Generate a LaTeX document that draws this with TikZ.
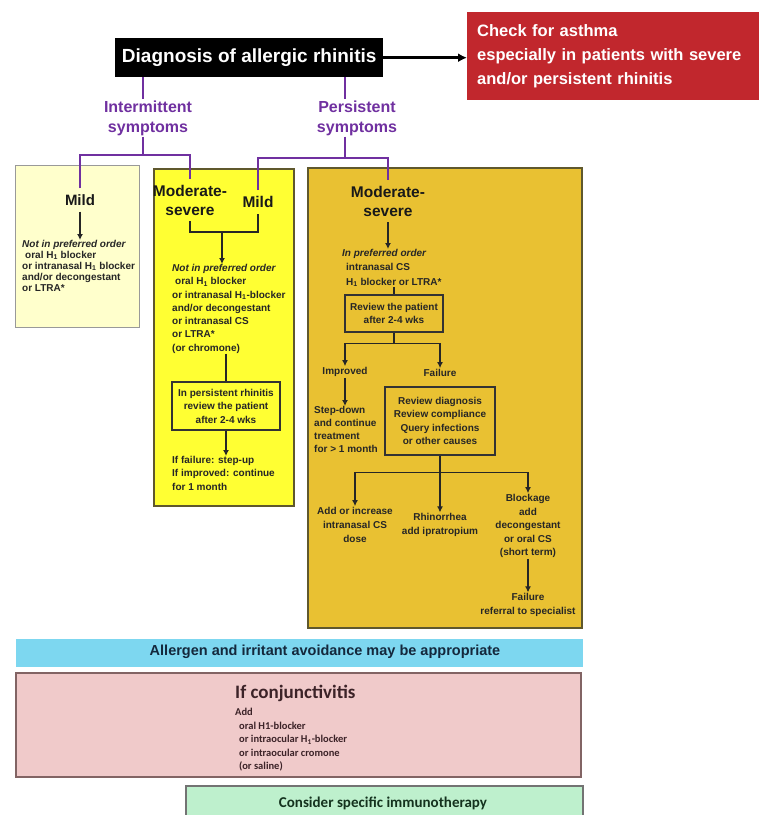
\documentclass[tikz,border=0pt]{standalone}
\usepackage{fontspec}
\setmainfont{Liberation Sans}
\newfontfamily\calib{Carlito}
\definecolor{diagred}{RGB}{193, 39, 45}
\definecolor{sympurple}{RGB}{112, 48, 160}
\definecolor{paleyel}{RGB}{255, 255, 204}
\definecolor{brightyel}{RGB}{255, 255, 51}
\definecolor{goldfill}{RGB}{233, 193, 50}
\definecolor{avoidblue}{RGB}{125, 215, 240}
\definecolor{conjpink}{RGB}{240, 202, 202}
\definecolor{immgreen}{RGB}{190, 240, 205}
\definecolor{edgedark}{RGB}{95, 88, 45}
\definecolor{pinkedge}{RGB}{130, 100, 100}
\definecolor{navytext}{RGB}{20, 40, 60}
\definecolor{conjtext}{RGB}{60, 35, 40}
\definecolor{immtext}{RGB}{20, 50, 30}
\usetikzlibrary{arrows.meta, positioning}

\begin{document}
\begin{tikzpicture}[x=1pt, y=-1pt,
  panel/.style={draw=edgedark, line width=1.5pt, anchor=north west, inner sep=0pt},
  head/.style={font=\bfseries\fontsize{15.5}{19}\selectfont, align=center, inner xsep=1pt, inner ysep=6pt, text=black!90},
  note/.style={font=\bfseries\fontsize{10}{13.3}\selectfont, align=left, inner sep=0pt, anchor=north west, text=black!85},
  cnote/.style={font=\bfseries\fontsize{10}{13.5}\selectfont, align=center, inner sep=1pt, text=black!85},
  revbox/.style={draw=black!80, line width=1.1pt, align=center, inner sep=0pt, text=black!85,
    font=\bfseries\fontsize{10}{13.5}\selectfont},
  link/.style={line width=1.2pt, black!85},
  arr/.style={link, -{Latex[length=6pt, width=6pt]}},
  plink/.style={line width=2.2pt, sympurple},
]
\useasboundingbox (0,0) rectangle (759,815);
\clip (0,0) rectangle (759,815);
\fill[white] (0,0) rectangle (759,815);

% diagnosis and asthma check
\node[fill=black, text=white, font=\bfseries\fontsize{19}{22}\selectfont, minimum width=268pt,
  minimum height=39pt, inner sep=0pt, anchor=north west] (diag) at (115,38) {Diagnosis of allergic rhinitis};
\node[fill=diagred, text=white, font=\bfseries\fontsize{16.5}{24}\selectfont, align=left, text width=320pt,
  minimum height=88pt, inner xsep=10pt, inner ysep=0pt, anchor=north west] (asthma) at (467,12)
  {Check for asthma\\especially in patients with severe\\and/or persistent rhinitis};
\draw[line width=3pt, -{Latex[length=9pt, width=9pt]}] (diag.east) -- (diag.east -| asthma.west);

% symptom classes
\node[font=\bfseries\fontsize{16}{20}\selectfont, text=sympurple, align=center, inner sep=1pt] (inter) at (148,118) {Intermittent\\symptoms};
\node[font=\bfseries\fontsize{16}{20}\selectfont, text=sympurple, align=center, inner sep=1pt] (pers) at (357,118) {Persistent\\symptoms};
\coordinate (jI) at (143,155);
\coordinate (jP) at (345,158);
\draw[plink] (diag.south -| jI) -- (inter.north -| jI);
\draw[plink] (inter.south -| jI) -- (jI);
\draw[plink] (diag.south -| jP) -- (pers.north -| jP);
\draw[plink] (pers.south -| jP) -- (jP);

% the three treatment panels
\node[panel, fill=paleyel, draw=black!40, line width=1.2pt, minimum width=124pt, minimum height=162pt] (intbox) at (15,165) {};
\node[panel, fill=brightyel, minimum width=140pt, minimum height=337pt] (yelbox) at (153,168) {};
\node[panel, fill=goldfill, minimum width=274pt, minimum height=460pt] (modbox) at (307,167) {};

\node[head, font=\bfseries\fontsize{15}{19}\selectfont] (mildI) at (80,200) {Mild};
\node[head] (modI) at (190,200) {Moderate-\\severe};
\node[head] (mildP) at (258,202) {Mild};
\node[head] (modP) at (388,201) {Moderate-\\severe};
\draw[plink] (mildI.north) |- (jI) -| (modI.north);
\draw[plink] (mildP.north) |- (jP) -| (modP.north);

% intermittent mild
\node[note, font=\bfseries\fontsize{10}{11}\selectfont] (inttxt) at (22,240)
  {\textit{Not in preferred order}\\\hspace*{3pt}oral H\textsubscript{1} blocker\\or intranasal H\textsubscript{1} blocker\\and/or decongestant\\or LTRA*};
\draw[arr] (mildI.south) -- (mildI.south |- inttxt.north);

% intermittent moderate-severe / persistent mild
\coordinate (brY) at (222,232);
\draw[link] (modI.south) |- (brY) -| (mildP.south);
\node[note] (yeltxt) at (172,264)
  {\textit{Not in preferred order}\\\hspace*{3pt}oral H\textsubscript{1} blocker\\or intranasal H\textsubscript{1}-blocker\\and/or decongestant\\or intranasal CS\\or LTRA*\\(or chromone)};
\draw[arr] (brY) -- (brY |- yeltxt.north);
\node[revbox, minimum width=108pt, minimum height=48pt] (yelrev) at (226,406) {In persistent rhinitis\\review the patient\\after 2-4 wks};
\draw[link] (yeltxt.south -| yelrev.north) -- (yelrev.north);
\node[note] (yelout) at (172,456) {If failure: step-up\\If improved: continue\\for 1 month};
\draw[arr] (yelrev.south) -- (yelrev.south |- yelout.north);

% persistent moderate-severe
\node[note, font=\bfseries\fontsize{10}{14.5}\selectfont] (goldtxt) at (342,249)
  {\textit{In preferred order}\\\hspace*{4pt}intranasal CS\\\hspace*{4pt}H\textsubscript{1} blocker or LTRA*};
\draw[arr] (modP.south) -- (modP.south |- goldtxt.north);
\node[revbox, minimum width=98pt, minimum height=37pt] (goldrev) at (394,313.5) {Review the patient\\after 2-4 wks};
\draw[link] (goldtxt.south -| goldrev.north) -- (goldrev.north);
\path (goldrev.south) ++(0,11) coordinate (jR);
\node[cnote] (impr) at (345,372) {Improved};
\node[cnote] (fail) at (440,373) {Failure};
\draw[link] (goldrev.south) -- (jR);
\draw[arr] (jR) -| (impr.north);
\draw[arr] (jR) -| (fail.north);
\node[note, font=\bfseries\fontsize{10}{13}\selectfont] (stepd) at (314,406) {Step-down\\and continue\\treatment\\for > 1 month};
\draw[arr] (impr.south) -- (impr.south |- stepd.north);
\node[revbox, minimum width=110pt, minimum height=68pt] (failrev) at (440,421) {Review diagnosis\\Review compliance\\Query infections\\or other causes};

\node[cnote, font=\bfseries\fontsize{10}{14}\selectfont] (addcs) at (355,525) {Add or increase\\intranasal CS\\dose};
\node[cnote] (rhino) at (440,525) {Rhinorrhea\\add ipratropium};
\node[cnote] (block) at (528,526) {Blockage\\add\\decongestant\\or oral CS\\(short term)};
\node[cnote] (refer) at (528,605) {Failure\\referral to specialist};
\path (failrev.south) ++(0,17) coordinate (jF);
\draw[link] (failrev.south) -- (jF);
\draw[arr] (jF) -| (addcs.north);
\draw[arr] (jF) -| (block.north);
\draw[arr] (jF) -- (rhino.north);
\draw[arr] (block.south) -- (refer.north);

% avoidance, conjunctivitis, immunotherapy
\node[panel, fill=avoidblue, draw=none, minimum width=567pt, minimum height=28pt] (avoid) at (15,638) {};
\node[font=\bfseries\fontsize{14.5}{17}\selectfont, text=navytext] (avoidtxt) at (325,652) {Allergen and irritant avoidance may be appropriate};

\node[panel, fill=conjpink, draw=pinkedge, line width=2pt, minimum width=565pt, minimum height=104pt] (conj) at (15,672) {};
\node[font=\calib\bfseries\fontsize{19}{22}\selectfont, text=conjtext, anchor=west, inner sep=0pt] (conjhead) at (235,693) {If conjunctivitis};
\node[font=\calib\bfseries\fontsize{10.5}{13.6}\selectfont, text=conjtext, align=left, anchor=north west, inner sep=0pt] (conjtxt) at (235,708)
  {Add\\\hspace*{4pt}oral H1-blocker\\\hspace*{4pt}or intraocular H\textsubscript{1}-blocker\\\hspace*{4pt}or intraocular cromone\\\hspace*{4pt}(or saline)};

\node[panel, fill=immgreen, draw=black!55, minimum width=397pt, minimum height=40pt] (immuno) at (185,785) {};
\node[font=\calib\bfseries\fontsize{15}{18}\selectfont, text=immtext] (immtxt) at (383,803) {Consider specific immunotherapy};
\end{tikzpicture}
\end{document}
